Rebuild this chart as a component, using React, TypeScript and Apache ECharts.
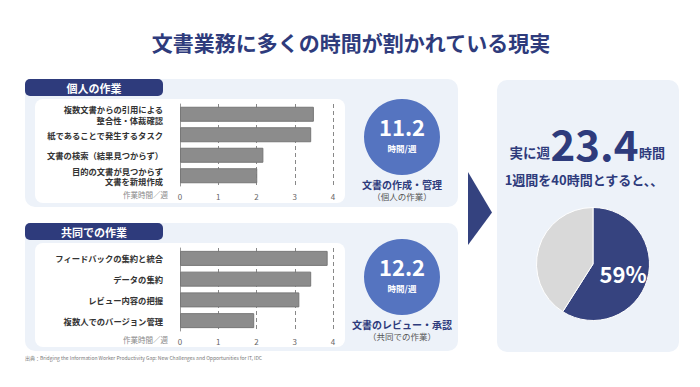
import React, { useEffect, useRef } from "react";
import * as echarts from "echarts";

const title = "文書業務に多くの時間が割かれている現実";

const personalCategories = [
  "複数文書からの引用による\n整合性・体裁確認",
  "紙であることで発生するタスク",
  "文書の検索（結果見つからず）",
  "目的の文書が見つからず\n文書を新規作成",
];
const personalHours = [3.5, 3.43, 2.18, 2.02];

const sharedCategories = [
  "フィードバックの集約と統合",
  "データの集約",
  "レビュー内容の把握",
  "複数人でのバージョン管理",
];
const sharedHours = [3.86, 3.43, 3.12, 1.94];

const personalTotal = "11.2";
const sharedTotal = "12.2";
const weeklyTotal = "23.4";
const pieNames = ["文書業務", "その他"];
const pieValues = [59, 41];

const FONT = "'Noto Sans CJK JP', 'Noto Sans', sans-serif";
const NAVY = "#2e3b7c";
const PANEL = "#edf2f9";
const CIRCLE = "#5574c0";

export default function App() {
  const ref = useRef<HTMLDivElement>(null);

  useEffect(() => {
    document.body.style.margin = "0";
    const chart = echarts.init(ref.current!, null, { renderer: "svg" });

    const xAxisCommon = {
      type: "value",
      min: 0,
      max: 4,
      interval: 1,
      axisLine: { show: false },
      axisTick: { show: false },
      axisLabel: { color: "#666", fontSize: 8, fontFamily: FONT, margin: 6 },
      splitLine: { show: true, lineStyle: { color: "#888", type: [4, 3], width: 1 } },
    };
    const yAxisCommon = {
      type: "category",
      inverse: true,
      axisLine: { show: true, lineStyle: { color: "#999" } },
      axisTick: { show: false },
      axisLabel: {
        color: "#333",
        fontSize: 8.3,
        fontWeight: "bold",
        fontFamily: FONT,
        margin: 17,
        lineHeight: 10.5,
        align: "right",
      },
    };
    const barStyle = { color: "#8c8c8c", borderColor: "#777", borderWidth: 1 };

    const panel = (y: number, label: string) => [
      { type: "rect", shape: { x: 25, y, width: 433, height: 128, r: 10 }, style: { fill: PANEL } },
      { type: "rect", shape: { x: 25, y, width: 138, height: 17, r: 5 }, style: { fill: NAVY } },
      {
        type: "text",
        x: 94,
        y: y + 8.5,
        style: { text: label, fill: "#fff", font: `bold 11px ${FONT}`, align: "center", verticalAlign: "middle" },
      },
      { type: "rect", shape: { x: 35, y: y + 20, width: 310, height: 104, r: 8 }, style: { fill: "#fff" } },
    ];

    const circleBlock = (cy: number, total: string, cap: string, sub: string) => [
      { type: "circle", shape: { cx: 402, cy, r: 38 }, style: { fill: CIRCLE } },
      {
        type: "text",
        x: 402,
        y: cy - 11,
        style: { text: total, fill: "#fff", font: `bold 22px ${FONT}`, align: "center", verticalAlign: "middle" },
      },
      {
        type: "text",
        x: 402,
        y: cy + 10.5,
        style: { text: "時間/週", fill: "#fff", font: `bold 8.5px ${FONT}`, align: "center", verticalAlign: "middle" },
      },
      {
        type: "text",
        x: 402,
        y: cy + 47,
        style: { text: cap, fill: NAVY, font: `bold 10px ${FONT}`, align: "center", verticalAlign: "middle" },
      },
      {
        type: "text",
        x: 402,
        y: cy + 59,
        style: { text: sub, fill: "#555", font: `8.5px ${FONT}`, align: "center", verticalAlign: "middle" },
      },
    ];

    const option: any = {
      animation: false,
      backgroundColor: "#fff",
      textStyle: { fontFamily: FONT },
      graphic: [
        {
          type: "text",
          x: 351,
          y: 42,
          style: { text: title, fill: NAVY, font: `bold 21px ${FONT}`, align: "center", verticalAlign: "middle" },
        },
        ...panel(79, "個人の作業"),
        ...panel(223, "共同での作業"),
        {
          type: "text",
          x: 168,
          y: 194,
          style: { text: "作業時間／週", fill: "#888", font: `7.5px ${FONT}`, align: "right", verticalAlign: "middle" },
        },
        {
          type: "text",
          x: 168,
          y: 339,
          style: { text: "作業時間／週", fill: "#888", font: `7.5px ${FONT}`, align: "right", verticalAlign: "middle" },
        },
        ...circleBlock(137, personalTotal, "文書の作成・管理", "（個人の作業）"),
        ...circleBlock(277, sharedTotal, "文書のレビュー・承認", "（共同での作業）"),
        {
          type: "polygon",
          shape: { points: [[468, 172], [492, 212.5], [468, 245]] },
          style: { fill: "#34427f" },
        },
        { type: "rect", shape: { x: 497, y: 80, width: 182, height: 272, r: 10 }, style: { fill: PANEL } },
        {
          type: "text",
          x: 550,
          y: 152,
          style: { text: "実に週", fill: NAVY, font: `bold 13.5px ${FONT}`, align: "right", verticalAlign: "middle" },
        },
        {
          type: "text",
          x: 594.5,
          y: 142,
          style: { text: weeklyTotal, fill: NAVY, font: `bold 42px ${FONT}`, align: "center", verticalAlign: "middle" },
        },
        {
          type: "text",
          x: 639,
          y: 152,
          style: { text: "時間", fill: NAVY, font: `bold 13px ${FONT}`, align: "left", verticalAlign: "middle" },
        },
        {
          type: "text",
          x: 584,
          y: 179,
          style: {
            text: "1週間を40時間とすると、、",
            fill: NAVY,
            font: `bold 13px ${FONT}`,
            align: "center",
            verticalAlign: "middle",
          },
        },
        {
          type: "text",
          x: 25,
          y: 357,
          style: {
            text: "出典：Bridging the Information Worker Productivity Gap: New Challenges and Opportunities for IT, IDC",
            fill: "#777",
            font: `5px ${FONT}`,
            align: "left",
            verticalAlign: "middle",
          },
        },
      ],
      grid: [
        { left: 180, top: 104, width: 153, height: 82 },
        { left: 180, top: 248, width: 153, height: 83 },
      ],
      xAxis: [
        { ...xAxisCommon, gridIndex: 0 },
        { ...xAxisCommon, gridIndex: 1 },
      ],
      yAxis: [
        { ...yAxisCommon, gridIndex: 0, data: personalCategories },
        { ...yAxisCommon, gridIndex: 1, data: sharedCategories },
      ],
      series: [
        {
          type: "bar",
          xAxisIndex: 0,
          yAxisIndex: 0,
          data: personalHours,
          barWidth: 15,
          itemStyle: barStyle,
          z: 3,
        },
        {
          type: "bar",
          xAxisIndex: 1,
          yAxisIndex: 1,
          data: sharedHours,
          barWidth: 15,
          itemStyle: barStyle,
          z: 3,
        },
        {
          type: "pie",
          center: [593, 264],
          radius: 56.5,
          startAngle: 90,
          clockwise: true,
          silent: true,
          labelLine: { show: false },
          itemStyle: { borderColor: "#fff", borderWidth: 1 },
          data: [
            {
              name: pieNames[0],
              value: pieValues[0],
              itemStyle: { color: "#36437f" },
              label: {
                show: true,
                position: "inside",
                formatter: "{d}%",
                color: "#fff",
                fontSize: 22,
                fontWeight: "bold",
                fontFamily: FONT,
              },
            },
            {
              name: pieNames[1],
              value: pieValues[1],
              itemStyle: { color: "#d9d9d9" },
              label: { show: false },
            },
          ],
        },
      ],
    };

    chart.setOption(option);
    return () => chart.dispose();
  }, []);

  return <div ref={ref} style={{ width: 700, height: 387 }} />;
}
